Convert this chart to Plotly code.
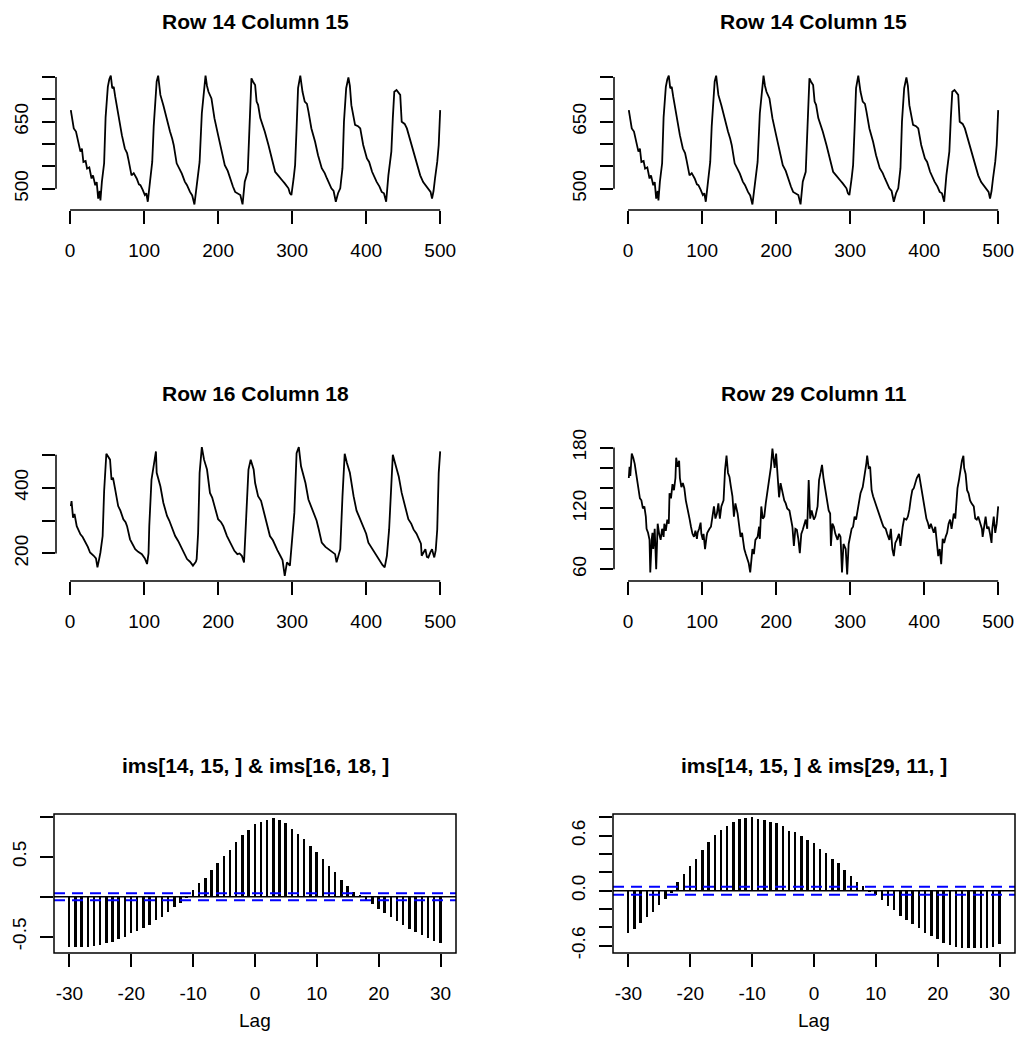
import plotly.graph_objects as go

# ---------------- data ----------------
# Row 14 Column 15 (time, value)
r14c15_t = [1, 3, 5, 8, 10, 12, 14, 16, 18, 21, 23, 26, 29, 31, 34, 36, 38, 40, 41, 43,
            46, 48, 51, 53, 55, 57, 59, 61, 65, 68, 70, 74, 77, 79, 83, 86, 90, 93, 95, 98,
            101, 103, 105, 108, 111, 113, 115, 117, 119, 120, 122, 126, 130, 135, 138, 140, 144, 148, 151, 155,
            158, 162, 165, 168, 171, 175, 178, 181, 183, 185, 187, 191, 195, 200, 205, 209, 213, 216, 220, 223,
            227, 230, 233, 236, 240, 242, 243, 245, 247, 250, 252, 254, 257, 260, 263, 268, 272, 277, 281, 284,
            287, 290, 293, 295, 297, 299, 302, 304, 306, 308, 311, 314, 317, 320, 322, 326, 331, 335, 340, 344,
            347, 350, 353, 356, 359, 362, 365, 368, 370, 373, 376, 378, 380, 385, 389, 392, 396, 401, 404, 408,
            411, 414, 418, 421, 424, 427, 430, 434, 436, 438, 441, 444, 446, 448, 452, 455, 460, 466, 470, 473,
            477, 480, 484, 487, 489, 491, 493, 496, 498, 499, 500]
r14c15_v = [676, 650, 635, 628, 613, 600, 583, 590, 560, 562, 545, 548, 523, 530, 508, 515, 478, 495, 474, 516,
            557, 660, 728, 745, 753, 725, 728, 706, 665, 640, 620, 590, 580, 564, 530, 535, 523, 510, 508, 498,
            486, 490, 471, 516, 560, 640, 700, 740, 753, 735, 710, 687, 658, 628, 612, 598, 557, 545, 534, 516,
            508, 493, 485, 465, 508, 560, 669, 732, 753, 730, 717, 702, 658, 620, 583, 553, 540, 523, 505, 493,
            490, 486, 465, 516, 538, 620, 702, 747, 740, 732, 695, 688, 658, 645, 628, 598, 568, 538, 530, 523,
            518, 512, 505, 501, 490, 486, 523, 553, 635, 725, 753, 717, 695, 690, 673, 635, 605, 575, 546, 535,
            523, 510, 501, 495, 471, 490, 501, 546, 650, 725, 749, 730, 687, 643, 640, 635, 598, 568, 560, 538,
            525, 516, 505, 493, 490, 471, 530, 583, 658, 717, 721, 715, 710, 650, 645, 635, 605, 568, 550, 530,
            515, 508, 500, 493, 478, 495, 523, 560, 598, 640, 676]

# Row 16 Column 18
r16c18_t = [1, 2, 4, 6, 9, 12, 14, 17, 20, 24, 27, 30, 32, 35, 37, 39, 41, 44, 46, 49,
            51, 54, 56, 58, 61, 65, 68, 72, 75, 77, 81, 85, 88, 92, 97, 101, 104, 106, 107, 110,
            113, 116, 117, 120, 122, 126, 131, 134, 137, 142, 146, 149, 153, 158, 162, 166, 170, 171, 173, 175,
            178, 181, 185, 189, 192, 195, 200, 204, 207, 212, 215, 219, 222, 226, 229, 232, 235, 238, 241, 244,
            246, 248, 250, 254, 258, 261, 266, 270, 274, 277, 280, 284, 287, 290, 293, 297, 300, 303, 306, 309,
            312, 315, 318, 322, 326, 329, 333, 336, 340, 345, 349, 354, 358, 360, 363, 365, 368, 371, 374, 378,
            383, 387, 390, 396, 400, 403, 408, 412, 416, 419, 422, 425, 428, 431, 434, 436, 439, 442, 444, 448,
            453, 457, 461, 464, 468, 471, 474, 475, 478, 480, 482, 484, 487, 489, 491, 492, 494, 496, 498, 500]
r16c18_v = [344, 359, 309, 320, 283, 270, 258, 250, 238, 220, 203, 198, 193, 185, 158, 180, 203, 253, 389, 503,
            495, 485, 424, 430, 394, 344, 330, 304, 295, 283, 243, 225, 213, 205, 198, 185, 168, 200, 283, 424,
            470, 510, 445, 420, 404, 354, 314, 300, 283, 253, 238, 223, 205, 183, 175, 163, 175, 183, 263, 445,
            523, 485, 455, 384, 370, 344, 304, 295, 283, 253, 240, 223, 208, 198, 200, 193, 173, 314, 455, 485,
            470, 455, 414, 374, 360, 334, 294, 253, 240, 223, 210, 193, 180, 132, 173, 163, 233, 324, 505, 523,
            465, 440, 414, 364, 340, 324, 300, 273, 233, 220, 213, 205, 198, 173, 200, 213, 374, 503, 475, 445,
            374, 330, 314, 283, 260, 233, 215, 203, 190, 178, 165, 158, 193, 273, 424, 500, 475, 450, 434, 384,
            344, 304, 290, 273, 260, 243, 230, 193, 205, 213, 190, 188, 205, 213, 195, 188, 210, 273, 445, 510]

# Row 29 Column 11
r29c11_t = [1, 2, 3, 5, 7, 9, 11, 14, 16, 18, 20, 22, 24, 25, 27, 29, 30, 32, 33, 34,
            36, 38, 40, 42, 44, 46, 48, 49, 51, 53, 55, 56, 58, 60, 62, 64, 65, 67, 69, 70,
            72, 74, 76, 78, 80, 83, 85, 87, 89, 91, 93, 94, 96, 98, 99, 101, 102, 104, 106, 107,
            110, 112, 114, 116, 118, 120, 122, 124, 126, 129, 131, 133, 135, 137, 139, 141, 143, 145, 148, 150,
            152, 154, 157, 159, 161, 163, 165, 167, 168, 170, 172, 175, 177, 178, 180, 182, 184, 186, 188, 190,
            193, 195, 197, 198, 200, 202, 204, 206, 208, 211, 213, 215, 218, 220, 222, 224, 226, 228, 230, 232,
            234, 236, 238, 240, 242, 244, 246, 248, 251, 253, 256, 258, 260, 262, 264, 266, 269, 271, 273, 274,
            276, 278, 280, 283, 285, 287, 289, 291, 294, 296, 298, 300, 302, 304, 306, 308, 310, 312, 314, 317,
            320, 322, 323, 325, 327, 329, 331, 334, 336, 339, 341, 343, 345, 348, 350, 353, 355, 357, 359, 361,
            363, 366, 368, 370, 371, 373, 376, 378, 380, 382, 384, 386, 388, 390, 393, 395, 397, 399, 401, 403,
            405, 407, 409, 411, 413, 415, 417, 419, 421, 423, 425, 427, 429, 431, 433, 435, 437, 440, 442, 443,
            445, 447, 449, 451, 453, 454, 456, 458, 460, 462, 464, 467, 469, 471, 473, 476, 478, 479, 481, 483,
            485, 487, 489, 491, 492, 494, 496, 498, 500]
r29c11_v = [150, 161, 152, 174, 170, 164, 154, 138, 130, 128, 120, 122, 112, 100, 96, 89, 57, 90, 96, 80,
            100, 60, 105, 95, 89, 100, 92, 105, 98, 109, 105, 135, 130, 144, 138, 150, 170, 161, 167, 150,
            141, 145, 140, 128, 122, 110, 102, 95, 92, 98, 90, 96, 100, 106, 95, 89, 95, 80, 92, 96,
            100, 102, 112, 122, 110, 115, 125, 110, 122, 128, 158, 172, 155, 151, 141, 132, 112, 125, 115, 100,
            92, 96, 80, 75, 70, 66, 57, 72, 80, 75, 89, 92, 102, 90, 122, 110, 112, 125, 135, 146,
            161, 179, 164, 160, 174, 150, 131, 145, 138, 128, 125, 120, 118, 110, 102, 83, 100, 99, 90, 76,
            95, 99, 105, 109, 100, 148, 110, 118, 109, 112, 122, 148, 155, 163, 150, 140, 128, 118, 115, 83,
            105, 102, 95, 89, 95, 92, 57, 85, 80, 55, 85, 92, 100, 102, 112, 109, 118, 125, 135, 141,
            154, 165, 172, 160, 161, 138, 132, 125, 120, 115, 110, 106, 102, 100, 95, 89, 100, 80, 73, 86,
            89, 95, 83, 100, 102, 110, 109, 112, 119, 130, 138, 140, 145, 150, 154, 145, 138, 130, 122, 110,
            106, 100, 105, 99, 96, 102, 90, 73, 80, 65, 90, 86, 92, 96, 105, 109, 100, 115, 110, 125,
            140, 148, 160, 167, 172, 160, 154, 138, 135, 128, 125, 122, 110, 109, 112, 106, 100, 92, 105, 112,
            100, 102, 95, 86, 100, 112, 96, 105, 122]

# cross-correlations, lags -30..30
lags = list(range(-30, 31))
ccf_14_15_vs_16_18 = [-0.625, -0.625, -0.625, -0.625, -0.617, -0.604, -0.583, -0.563, -0.533, -0.50,
                      -0.46, -0.43, -0.395, -0.354, -0.29, -0.25, -0.19, -0.125, -0.075, -0.02,
                      0.09, 0.17, 0.24, 0.34, 0.42, 0.51, 0.59, 0.69, 0.77, 0.84,
                      0.91, 0.94, 0.96, 0.98, 0.96, 0.92, 0.85, 0.79, 0.72, 0.63,
                      0.56, 0.47, 0.38, 0.31, 0.21, 0.13, 0.06, 0.01, -0.04, -0.09,
                      -0.15, -0.20, -0.25, -0.30, -0.35, -0.40, -0.44, -0.48, -0.52, -0.56, -0.58]
ccf_14_15_vs_29_11 = [-0.465, -0.42, -0.356, -0.29, -0.23, -0.156, -0.095, -0.03, 0.10, 0.18,
                      0.27, 0.35, 0.44, 0.53, 0.61, 0.66, 0.705, 0.75, 0.78, 0.79,
                      0.80, 0.78, 0.77, 0.75, 0.735, 0.705, 0.655, 0.64, 0.60, 0.55,
                      0.52, 0.46, 0.41, 0.35, 0.30, 0.225, 0.16, 0.10, 0.05, -0.01,
                      -0.05, -0.10, -0.17, -0.21, -0.28, -0.32, -0.36, -0.41, -0.46, -0.49,
                      -0.53, -0.57, -0.59, -0.61, -0.62, -0.62, -0.62, -0.62, -0.62, -0.61, -0.58]
ci_bound = 0.044

titles = ["Row 14 Column 15", "Row 14 Column 15", "Row 16 Column 18", "Row 29 Column 11",
          "ims[14, 15, ] & ims[16, 18, ]", "ims[14, 15, ] & ims[29, 11, ]"]

ts_xticks = [0, 100, 200, 300, 400, 500]
p1_yticks = [500, 550, 600, 650, 700, 750]
p1_ylabels = ["500", "", "", "650", "", ""]
p3_yticks = [200, 300, 400, 500]
p3_ylabels = ["200", "", "400", ""]
p4_yticks = [60, 80, 100, 120, 140, 160, 180]
p4_ylabels = ["60", "", "", "120", "", "", "180"]
lag_ticks = [-30, -20, -10, 0, 10, 20, 30]
p5_yticks = [-0.5, 0.0, 0.5, 1.0]
p5_ylabels = ["-0.5", "", "0.5", ""]
p6_yticks = [-0.6, -0.4, -0.2, 0.0, 0.2, 0.4, 0.6, 0.8]
p6_ylabels = ["-0.6", "", "", "0.0", "", "", "0.6", ""]

# ---------------- layout geometry (pixels) ----------------
W, H = 1021, 1059
FONT = "Arial, Liberation Sans, sans-serif"

def dx(a, b):
    return [a / W, b / W]

def dy(top, bottom):
    return [1 - bottom / H, 1 - top / H]

panels = [
    dict(x=(56, 455), y=(71, 210), xr=[-19, 520], yr=[452.5, 763.5]),
    dict(x=(614, 1013), y=(71, 210), xr=[-19, 520], yr=[452.5, 763.5]),
    dict(x=(56, 455), y=(442, 581), xr=[-19, 520], yr=[116.4, 538.6]),
    dict(x=(614, 1013), y=(442, 581), xr=[-19, 520], yr=[48.5, 185.5]),
    dict(x=(54, 456), y=(814, 953), xr=[-32.5, 32.5], yr=[-0.704, 1.034]),
    dict(x=(613, 1015), y=(814, 953), xr=[-32.5, 32.5], yr=[-0.679, 0.836]),
]
yticks = [(p1_yticks, p1_ylabels), (p1_yticks, p1_ylabels), (p3_yticks, p3_ylabels),
          (p4_yticks, p4_ylabels), (p5_yticks, p5_ylabels), (p6_yticks, p6_ylabels)]
series = [(r14c15_t, r14c15_v), (r14c15_t, r14c15_v), (r16c18_t, r16c18_v), (r29c11_t, r29c11_v)]
ccfs = [ccf_14_15_vs_16_18, ccf_14_15_vs_29_11]

fig = go.Figure()
shapes = []
annotations = []
layout = dict(width=W, height=H, margin=dict(l=0, r=0, t=0, b=0, pad=0), autosize=False,
              template="none",
              paper_bgcolor="white", plot_bgcolor="white", showlegend=False,
              font=dict(family=FONT, color="black"))

LW = 1.5
for i, p in enumerate(panels):
    n = i + 1
    xa = "x" if n == 1 else f"x{n}"
    ya = "y" if n == 1 else f"y{n}"
    xticks = ts_xticks if n <= 4 else lag_ticks
    ytv, ytt = yticks[i]
    layout["xaxis" if n == 1 else f"xaxis{n}"] = dict(
        domain=dx(*p["x"]), range=p["xr"], anchor=ya, automargin=False,
        showgrid=False, zeroline=False, showline=False,
        ticks="outside", ticklen=13, tickwidth=LW, tickcolor="black",
        tickvals=xticks, ticktext=[str(v) for v in xticks],
        tickfont=dict(family=FONT, size=19, color="black"), ticklabelstandoff=10)
    layout["yaxis" if n == 1 else f"yaxis{n}"] = dict(
        domain=dy(*p["y"]), range=p["yr"], anchor=xa, automargin=False,
        showgrid=False, zeroline=False, showline=False,
        ticks="outside", ticklen=13, tickwidth=LW, tickcolor="black",
        tickvals=ytv, ticktext=ytt, tickangle=-90,
        tickfont=dict(family=FONT, size=19, color="black"), ticklabelstandoff=6)

    if n <= 4:
        t, v = series[i]
        fig.add_trace(go.Scatter(x=t, y=v, mode="lines", xaxis=xa, yaxis=ya,
                                 line=dict(color="black", width=1.8), hoverinfo="skip"))
        shapes.append(dict(type="line", xref=xa, yref=f"{ya} domain", x0=xticks[0], x1=xticks[-1],
                           y0=0, y1=0, line=dict(color="black", width=LW)))
        shapes.append(dict(type="line", xref=f"{xa} domain", yref=ya, x0=0, x1=0,
                           y0=ytv[0], y1=ytv[-1], line=dict(color="black", width=LW)))
    else:
        vals = ccfs[i - 4]
        fig.add_trace(go.Bar(x=lags, y=vals, width=0.32, xaxis=xa, yaxis=ya,
                             marker=dict(color="black", line=dict(width=0)), hoverinfo="skip"))
        shapes.append(dict(type="line", xref=f"{xa} domain", yref=ya, x0=0, x1=1, y0=0, y1=0,
                           line=dict(color="black", width=LW)))
        for s in (ci_bound, -ci_bound):
            shapes.append(dict(type="line", xref=f"{xa} domain", yref=ya, x0=0, x1=1, y0=s, y1=s,
                               line=dict(color="#0000FF", width=2, dash="11px,7px")))
        shapes.append(dict(type="rect", xref=f"{xa} domain", yref=f"{ya} domain", x0=0, x1=1,
                           y0=0, y1=1, line=dict(color="black", width=LW)))

    cx = (p["x"][0] + p["x"][1]) / 2 / W
    ty = p["y"][0] - 49
    annotations.append(dict(text=f"<b>{titles[i]}</b>", xref="paper", yref="paper",
                            x=cx, y=1 - ty / H, xanchor="center", yanchor="middle",
                            showarrow=False, font=dict(family=FONT, size=21, color="black")))
    if n >= 5:
        annotations.append(dict(text="Lag", xref="paper", yref="paper", x=cx, y=1 - 1020 / H,
                                xanchor="center", yanchor="middle", showarrow=False,
                                font=dict(family=FONT, size=19, color="black")))

layout["shapes"] = shapes
layout["annotations"] = annotations
layout["bargap"] = 0
fig.update_layout(**layout)
fig.write_html("out.html")
